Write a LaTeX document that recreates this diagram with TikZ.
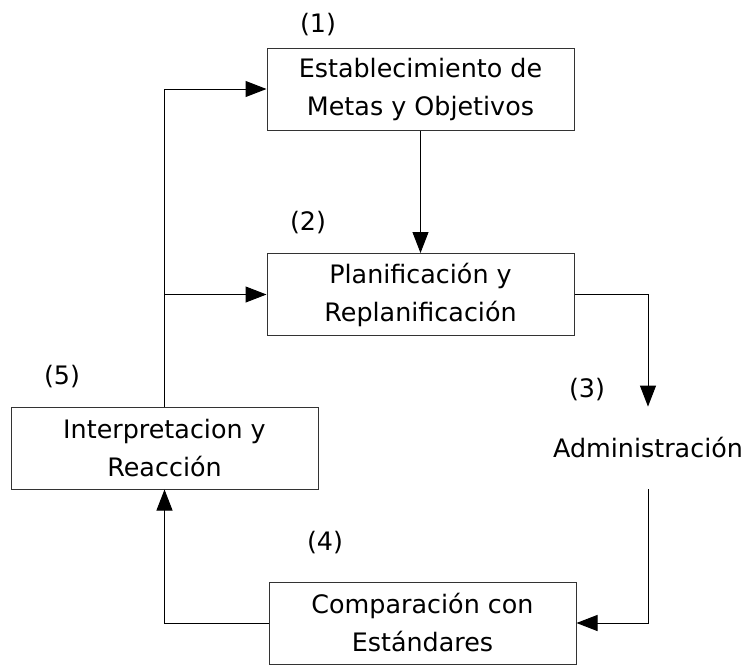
\documentclass[tikz,border=0pt]{standalone}
\usepackage{fontspec}
\setmainfont{DejaVu Sans}
\usetikzlibrary{arrows.meta}

\begin{document}
\begin{tikzpicture}[x=0.5pt,y=-0.5pt,
        font=\fontsize{12.7}{19}\selectfont,
        box/.style={draw=black!80, line width=0.5pt, minimum width=153.5pt, minimum height=41pt, align=center, inner sep=0pt},
        link/.style={line width=0.5pt, -{Triangle[length=10.5pt,width=8pt]}}]
        \useasboundingbox (0,0) rectangle (746,665);
        \node[box] (Metas) at (420.5,89) {Establecimiento de\\Metas y Objetivos};
        \node[box] (Plan) at (420.5,294.5) {Planificación y\\Replanificación};
        \node[minimum height=41pt, inner sep=0pt] (Admin) at (648,448) {Administración};
        \node[box] (Comp) at (422.5,623) {Comparación con\\Estándares};
        \node[box] (Interp) at (164.5,448) {Interpretacion y\\Reacción};
        \node (NumA) at (318,25) {(1)};
        \node (NumB) at (308,223) {(2)};
        \node (NumC) at (587,390) {(3)};
        \node (NumD) at (325,543) {(4)};
        \node (NumE) at (62,377) {(5)};
        \draw[link] (Metas.south) -- (Plan.north);
        \draw[link] (Plan.east) -| (Admin.north);
        \draw[link] (Admin.south) |- (Comp.east);
        \draw[link] (Comp.west) -| (Interp.south);
        \draw[link] (Interp.north) |- (Metas.west);
        \draw[link] (Interp.north |- Plan.west) -- (Plan.west);
    \end{tikzpicture}
\end{document}
